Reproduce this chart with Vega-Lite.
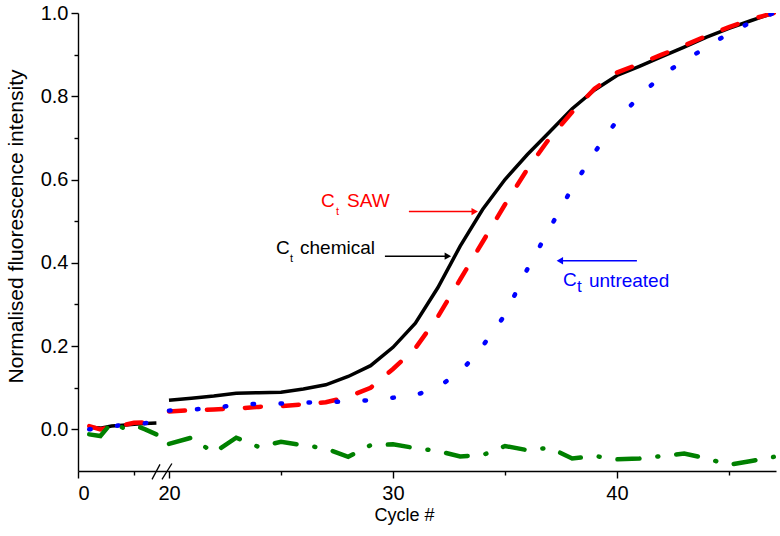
{
  "$schema": "https://vega.github.io/schema/vega-lite/v6.json",
  "autosize": "none",
  "width": 698,
  "height": 458,
  "padding": {"left": 78, "top": 13, "right": 4, "bottom": 65},
  "background": "white",
  "config": {
    "view": {"stroke": null},
    "font": "Liberation Sans",
    "axis": {"grid": false, "domainColor": "black", "tickColor": "black", "labelColor": "black", "titleColor": "black", "labelFont": "Liberation Sans", "titleFont": "Liberation Sans", "titleFontWeight": "normal", "domainWidth": 1.4, "tickWidth": 1.4}
  },
  "datasets": {
    "curves": [
      {"s": "chem", "seg": "L", "c": 1, "v": 0.005}, {"s": "chem", "seg": "L", "c": 2, "v": 0.003}, {"s": "chem", "seg": "L", "c": 3, "v": 0.008}, {"s": "chem", "seg": "L", "c": 4, "v": 0.01}, {"s": "chem", "seg": "L", "c": 5, "v": 0.012}, {"s": "chem", "seg": "L", "c": 6, "v": 0.014}, {"s": "chem", "seg": "L", "c": 7, "v": 0.015},
      {"s": "chem", "seg": "R", "c": 20, "v": 0.07}, {"s": "chem", "seg": "R", "c": 21, "v": 0.075}, {"s": "chem", "seg": "R", "c": 22, "v": 0.08}, {"s": "chem", "seg": "R", "c": 23, "v": 0.087}, {"s": "chem", "seg": "R", "c": 24, "v": 0.088}, {"s": "chem", "seg": "R", "c": 25, "v": 0.089}, {"s": "chem", "seg": "R", "c": 26, "v": 0.097}, {"s": "chem", "seg": "R", "c": 27, "v": 0.107}, {"s": "chem", "seg": "R", "c": 28, "v": 0.127}, {"s": "chem", "seg": "R", "c": 29, "v": 0.153}, {"s": "chem", "seg": "R", "c": 30, "v": 0.197}, {"s": "chem", "seg": "R", "c": 31, "v": 0.255}, {"s": "chem", "seg": "R", "c": 32, "v": 0.34}, {"s": "chem", "seg": "R", "c": 33, "v": 0.44}, {"s": "chem", "seg": "R", "c": 34, "v": 0.528}, {"s": "chem", "seg": "R", "c": 35, "v": 0.6}, {"s": "chem", "seg": "R", "c": 36, "v": 0.66}, {"s": "chem", "seg": "R", "c": 37, "v": 0.715}, {"s": "chem", "seg": "R", "c": 38, "v": 0.77}, {"s": "chem", "seg": "R", "c": 39, "v": 0.815}, {"s": "chem", "seg": "R", "c": 40, "v": 0.85}, {"s": "chem", "seg": "R", "c": 41, "v": 0.872}, {"s": "chem", "seg": "R", "c": 42, "v": 0.895}, {"s": "chem", "seg": "R", "c": 43, "v": 0.918}, {"s": "chem", "seg": "R", "c": 44, "v": 0.942}, {"s": "chem", "seg": "R", "c": 45, "v": 0.963}, {"s": "chem", "seg": "R", "c": 46, "v": 0.982}, {"s": "chem", "seg": "R", "c": 47, "v": 1.0},
      {"s": "saw", "seg": "L", "c": 1, "v": 0.008}, {"s": "saw", "seg": "L", "c": 2, "v": 0.0}, {"s": "saw", "seg": "L", "c": 3, "v": 0.006}, {"s": "saw", "seg": "L", "c": 4, "v": 0.01}, {"s": "saw", "seg": "L", "c": 5, "v": 0.016}, {"s": "saw", "seg": "L", "c": 6, "v": 0.017}, {"s": "saw", "seg": "L", "c": 7, "v": 0.018},
      {"s": "saw", "seg": "R", "c": 20, "v": 0.043}, {"s": "saw", "seg": "R", "c": 21, "v": 0.046}, {"s": "saw", "seg": "R", "c": 22, "v": 0.048}, {"s": "saw", "seg": "R", "c": 23, "v": 0.05}, {"s": "saw", "seg": "R", "c": 24, "v": 0.054}, {"s": "saw", "seg": "R", "c": 25, "v": 0.056}, {"s": "saw", "seg": "R", "c": 26, "v": 0.06}, {"s": "saw", "seg": "R", "c": 27, "v": 0.065}, {"s": "saw", "seg": "R", "c": 28, "v": 0.078}, {"s": "saw", "seg": "R", "c": 29, "v": 0.1}, {"s": "saw", "seg": "R", "c": 30, "v": 0.145}, {"s": "saw", "seg": "R", "c": 31, "v": 0.195}, {"s": "saw", "seg": "R", "c": 32, "v": 0.27}, {"s": "saw", "seg": "R", "c": 33, "v": 0.36}, {"s": "saw", "seg": "R", "c": 34, "v": 0.45}, {"s": "saw", "seg": "R", "c": 35, "v": 0.54}, {"s": "saw", "seg": "R", "c": 36, "v": 0.625}, {"s": "saw", "seg": "R", "c": 37, "v": 0.7}, {"s": "saw", "seg": "R", "c": 38, "v": 0.762}, {"s": "saw", "seg": "R", "c": 39, "v": 0.818}, {"s": "saw", "seg": "R", "c": 40, "v": 0.857}, {"s": "saw", "seg": "R", "c": 41, "v": 0.878}, {"s": "saw", "seg": "R", "c": 42, "v": 0.9}, {"s": "saw", "seg": "R", "c": 43, "v": 0.922}, {"s": "saw", "seg": "R", "c": 44, "v": 0.945}, {"s": "saw", "seg": "R", "c": 45, "v": 0.966}, {"s": "saw", "seg": "R", "c": 46, "v": 0.985}, {"s": "saw", "seg": "R", "c": 47, "v": 1.0},
      {"s": "untr", "seg": "L", "c": 1, "v": 0.0}, {"s": "untr", "seg": "L", "c": 2, "v": 0.002}, {"s": "untr", "seg": "L", "c": 3, "v": 0.008}, {"s": "untr", "seg": "L", "c": 4, "v": 0.01}, {"s": "untr", "seg": "L", "c": 5, "v": 0.012}, {"s": "untr", "seg": "L", "c": 6, "v": 0.015}, {"s": "untr", "seg": "L", "c": 7, "v": 0.017},
      {"s": "untr", "seg": "R", "c": 20, "v": 0.045}, {"s": "untr", "seg": "R", "c": 21, "v": 0.048}, {"s": "untr", "seg": "R", "c": 22, "v": 0.05}, {"s": "untr", "seg": "R", "c": 23, "v": 0.06}, {"s": "untr", "seg": "R", "c": 24, "v": 0.061}, {"s": "untr", "seg": "R", "c": 25, "v": 0.062}, {"s": "untr", "seg": "R", "c": 26, "v": 0.064}, {"s": "untr", "seg": "R", "c": 27, "v": 0.066}, {"s": "untr", "seg": "R", "c": 28, "v": 0.067}, {"s": "untr", "seg": "R", "c": 29, "v": 0.07}, {"s": "untr", "seg": "R", "c": 30, "v": 0.076}, {"s": "untr", "seg": "R", "c": 31, "v": 0.082}, {"s": "untr", "seg": "R", "c": 32, "v": 0.102}, {"s": "untr", "seg": "R", "c": 33, "v": 0.137}, {"s": "untr", "seg": "R", "c": 34, "v": 0.2}, {"s": "untr", "seg": "R", "c": 35, "v": 0.275}, {"s": "untr", "seg": "R", "c": 36, "v": 0.385}, {"s": "untr", "seg": "R", "c": 37, "v": 0.483}, {"s": "untr", "seg": "R", "c": 38, "v": 0.58}, {"s": "untr", "seg": "R", "c": 39, "v": 0.665}, {"s": "untr", "seg": "R", "c": 40, "v": 0.742}, {"s": "untr", "seg": "R", "c": 41, "v": 0.8}, {"s": "untr", "seg": "R", "c": 42, "v": 0.85}, {"s": "untr", "seg": "R", "c": 43, "v": 0.886}, {"s": "untr", "seg": "R", "c": 44, "v": 0.917}, {"s": "untr", "seg": "R", "c": 45, "v": 0.952}, {"s": "untr", "seg": "R", "c": 46, "v": 0.978}, {"s": "untr", "seg": "R", "c": 47, "v": 1.0},
      {"s": "ntc", "seg": "L", "c": 1, "v": -0.012}, {"s": "ntc", "seg": "L", "c": 2, "v": -0.016}, {"s": "ntc", "seg": "L", "c": 3, "v": 0.016}, {"s": "ntc", "seg": "L", "c": 4, "v": 0.004}, {"s": "ntc", "seg": "L", "c": 5, "v": 0.01}, {"s": "ntc", "seg": "L", "c": 6, "v": 0.0}, {"s": "ntc", "seg": "L", "c": 7, "v": -0.012},
      {"s": "ntc", "seg": "R", "c": 20, "v": -0.035}, {"s": "ntc", "seg": "R", "c": 21, "v": -0.02}, {"s": "ntc", "seg": "R", "c": 22, "v": -0.056}, {"s": "ntc", "seg": "R", "c": 23, "v": -0.02}, {"s": "ntc", "seg": "R", "c": 24, "v": -0.042}, {"s": "ntc", "seg": "R", "c": 25, "v": -0.03}, {"s": "ntc", "seg": "R", "c": 26, "v": -0.038}, {"s": "ntc", "seg": "R", "c": 27, "v": -0.046}, {"s": "ntc", "seg": "R", "c": 28, "v": -0.066}, {"s": "ntc", "seg": "R", "c": 29, "v": -0.038}, {"s": "ntc", "seg": "R", "c": 30, "v": -0.036}, {"s": "ntc", "seg": "R", "c": 31, "v": -0.045}, {"s": "ntc", "seg": "R", "c": 32, "v": -0.052}, {"s": "ntc", "seg": "R", "c": 33, "v": -0.065}, {"s": "ntc", "seg": "R", "c": 34, "v": -0.062}, {"s": "ntc", "seg": "R", "c": 35, "v": -0.04}, {"s": "ntc", "seg": "R", "c": 36, "v": -0.05}, {"s": "ntc", "seg": "R", "c": 37, "v": -0.044}, {"s": "ntc", "seg": "R", "c": 38, "v": -0.07}, {"s": "ntc", "seg": "R", "c": 39, "v": -0.064}, {"s": "ntc", "seg": "R", "c": 40, "v": -0.072}, {"s": "ntc", "seg": "R", "c": 41, "v": -0.07}, {"s": "ntc", "seg": "R", "c": 42, "v": -0.064}, {"s": "ntc", "seg": "R", "c": 43, "v": -0.058}, {"s": "ntc", "seg": "R", "c": 44, "v": -0.07}, {"s": "ntc", "seg": "R", "c": 45, "v": -0.085}, {"s": "ntc", "seg": "R", "c": 46, "v": -0.076}, {"s": "ntc", "seg": "R", "c": 47, "v": -0.066}
    ],
    "arrows": [
      {"k": "saw", "x1": 30.71, "x2": 33.6, "y": 0.523, "hx": 33.65, "shape": "triangle-right", "col": "#ff0000"},
      {"k": "chem", "x1": 29.64, "x2": 32.4, "y": 0.416, "hx": 32.45, "shape": "triangle-right", "col": "#000000"},
      {"k": "untr", "x1": 37.5, "x2": 40.89, "y": 0.405, "hx": 37.45, "shape": "triangle-left", "col": "#0000ff"}
    ],
    "labels": [
      {"t": "C", "x": 26.79, "y": 0.535, "col": "#ff0000", "fs": 19},
      {"t": "t", "x": 27.46, "y": 0.516, "col": "#ff0000", "fs": 11},
      {"t": "SAW", "x": 27.95, "y": 0.535, "col": "#ff0000", "fs": 19},
      {"t": "C", "x": 24.78, "y": 0.422, "col": "#000000", "fs": 19},
      {"t": "t", "x": 25.4, "y": 0.403, "col": "#000000", "fs": 11},
      {"t": "chemical", "x": 25.85, "y": 0.422, "col": "#000000", "fs": 19},
      {"t": "C", "x": 37.59, "y": 0.345, "col": "#0000ff", "fs": 19},
      {"t": "t", "x": 38.21, "y": 0.331, "col": "#0000ff", "fs": 17},
      {"t": "untreated", "x": 38.75, "y": 0.343, "col": "#0000ff", "fs": 19}
    ],
    "brk": [
      {"x1": 6.61, "x2": 7.32, "y1": -0.12, "y2": -0.084},
      {"x1": 7.5, "x2": 20.13, "y1": -0.12, "y2": -0.082}
    ]
  },
  "encoding": {
    "x": {"field": "c", "type": "quantitative",
      "scale": {"domain": [0, 8, 20, 47.1], "range": [0, 89.6, 91, 698], "nice": false, "zero": false},
      "axis": {"title": "Cycle #", "titleFontSize": 18, "labelFontSize": 20, "values": [0, 5, 20, 25, 30, 35, 40, 45],
        "labelExpr": "datum.value == 0 || datum.value == 20 || datum.value == 30 || datum.value == 40 ? datum.label : ''",
        "tickSize": {"condition": {"test": "datum.value == 0 || datum.value == 20 || datum.value == 30 || datum.value == 40", "value": 7}, "value": 4},
        "labelPadding": 5, "titlePadding": 3, "titleX": 326, "titleAnchor": "middle"}},
    "y": {"field": "v", "type": "quantitative",
      "scale": {"domain": [-0.1, 1.0], "nice": false, "zero": false},
      "axis": {"title": "Normalised fluorescence intensity", "titleFontSize": 21, "labelFontSize": 20,
        "values": [0, 0.1, 0.2, 0.3, 0.4, 0.5, 0.6, 0.7, 0.8, 0.9, 1.0],
        "labelExpr": "round(datum.value * 10) % 2 == 0 ? format(datum.value, '.1f') : ''",
        "tickSize": {"condition": {"test": "round(datum.value * 10) % 2 == 0", "value": 7}, "value": 4},
        "labelPadding": 3, "titlePadding": 14, "titleY": 213}}
  },
  "layer": [
    {"data": {"name": "curves"}, "transform": [{"filter": "datum.s == 'chem'"}],
     "mark": {"type": "line", "color": "#000000", "strokeWidth": 3.5, "clip": true},
     "encoding": {"detail": {"field": "seg"}}},
    {"data": {"name": "curves"}, "transform": [{"filter": "datum.s == 'saw'"}],
     "mark": {"type": "line", "color": "#ff0000", "strokeWidth": 4.5, "strokeDash": [16, 22], "strokeCap": "round", "clip": true},
     "encoding": {"detail": {"field": "seg"}}},
    {"data": {"name": "curves"}, "transform": [{"filter": "datum.s == 'untr'"}],
     "mark": {"type": "line", "color": "#0000ff", "strokeWidth": 4.5, "strokeDash": [1.5, 26.5], "strokeCap": "round", "clip": true},
     "encoding": {"detail": {"field": "seg"}}},
    {"data": {"name": "curves"}, "transform": [{"filter": "datum.s == 'ntc'"}],
     "mark": {"type": "line", "color": "#008000", "strokeWidth": 4.5, "strokeDash": [22, 18, 1, 18], "strokeCap": "round", "clip": true},
     "encoding": {"detail": {"field": "seg"}}},
    {"data": {"name": "arrows"},
     "mark": {"type": "rule", "strokeWidth": 1.5},
     "encoding": {"x": {"field": "x1", "type": "quantitative"}, "x2": {"field": "x2"}, "y": {"field": "y", "type": "quantitative"}, "color": {"field": "col", "type": "nominal", "scale": null}}},
    {"data": {"name": "arrows"},
     "mark": {"type": "point", "filled": true, "opacity": 1, "size": 55},
     "encoding": {"x": {"field": "hx", "type": "quantitative"}, "y": {"field": "y", "type": "quantitative"}, "shape": {"field": "shape", "type": "nominal", "scale": null}, "color": {"field": "col", "type": "nominal", "scale": null}}},
    {"data": {"name": "labels"},
     "mark": {"type": "text", "align": "left", "baseline": "alphabetic", "font": "Liberation Sans"},
     "encoding": {"x": {"field": "x", "type": "quantitative"}, "y": {"field": "y", "type": "quantitative"}, "text": {"field": "t"}, "color": {"field": "col", "type": "nominal", "scale": null}, "size": {"field": "fs", "type": "quantitative", "scale": null}}},
    {"data": {"name": "brk"},
     "mark": {"type": "rule", "color": "black", "strokeWidth": 1.3},
     "encoding": {"x": {"field": "x1", "type": "quantitative"}, "x2": {"field": "x2"}, "y": {"field": "y1", "type": "quantitative"}, "y2": {"field": "y2"}}}
  ]
}
